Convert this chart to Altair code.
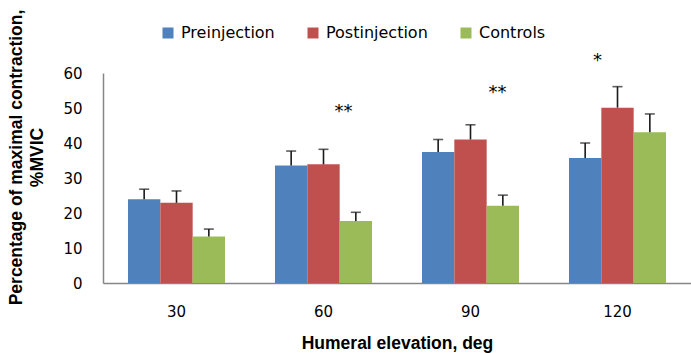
import altair as alt
import pandas as pd

angles = ["30", "60", "90", "120"]
series = ["Preinjection", "Postinjection", "Controls"]
colors = ["#4F81BD", "#C0504D", "#9BBB59"]

pre = [23.9, 33.6, 37.4, 35.7]
pre_err = [26.8, 37.7, 41.0, 40.0]
post = [22.9, 33.9, 41.0, 50.1]
post_err = [26.3, 38.2, 45.2, 56.1]
ctrl = [13.3, 17.7, 22.1, 43.1]
ctrl_err = [15.4, 20.2, 25.1, 48.3]

ann_angles = ["60", "90", "120"]
ann_y = [48.9, 54.2, 63.4]
ann_text = ["**", "**", "*"]
ann_dx = [20, 27, -20]

rows = []
for s, vals, errs in zip(series, [pre, post, ctrl], [pre_err, post_err, ctrl_err]):
    for a, v, e in zip(angles, vals, errs):
        rows.append({"angle": a, "series": s, "value": v, "err": e})
df = pd.DataFrame(rows)

x_axis = alt.Axis(
    title="Humeral elevation, deg",
    labelAngle=0,
    ticks=False,
    labelPadding=21,
    labelFont="DejaVu Sans",
    labelFontSize=15,
    labelColor="#000000",
    domainColor="#868686",
    domainWidth=1.5,
    titleFont="Liberation Sans",
    titleFontSize=17.5,
    titleFontWeight="bold",
    titleColor="#000000",
    titleY=65,
    titleBaseline="alphabetic",
)
x_scale = alt.Scale(domain=angles, paddingInner=0.34, paddingOuter=0.17)
x = alt.X("angle:N", sort=angles, scale=x_scale, axis=x_axis)
xo = alt.XOffset("series:N", sort=series, scale=alt.Scale(domain=series, paddingInner=0, paddingOuter=0))

y_scale = alt.Scale(domain=[0, 60], nice=False)
y_axis = alt.Axis(
    title=["Percentage of maximal contraction,", "%MVIC"],
    values=[0, 10, 20, 30, 40, 50, 60],
    tickCount=7,
    labelOverlap=False,
    grid=False,
    ticks=False,
    labelPadding=21,
    labelFont="DejaVu Sans",
    labelFontSize=15,
    labelColor="#000000",
    domainColor="#868686",
    domainWidth=1.5,
    titleFont="Liberation Sans",
    titleFontSize=17.5,
    titleFontWeight="bold",
    titleColor="#000000",
    titleAngle=-90,
    titleX=-96,
    titleY=84,
    titleAlign="center",
    titleBaseline="top",
    titleLineHeight=21,
)
y = alt.Y("value:Q", scale=y_scale, axis=y_axis)

color = alt.Color(
    "series:N",
    sort=series,
    scale=alt.Scale(domain=series, range=colors),
    legend=alt.Legend(
        title=None,
        orient="none",
        direction="horizontal",
        legendX=57,
        legendY=-48,
        symbolType="square",
        symbolSize=121,
        symbolStrokeWidth=0,
        labelFont="DejaVu Sans",
        labelFontSize=16,
        labelColor="#000000",
        labelOffset=5,
        columnPadding=30,
        padding=0,
    ),
)

base = alt.Chart(df)
bars = base.mark_bar().encode(x=x, xOffset=xo, y=y, color=color)
rules = base.mark_rule(color="#1a1a1a", strokeWidth=1.6).encode(
    x=x, xOffset=xo, y=y, y2="err:Q"
)
caps = base.mark_tick(color="#1a1a1a", thickness=1.6, size=10, orient="horizontal").encode(
    x=x, xOffset=xo, y=alt.Y("err:Q", scale=y_scale, axis=y_axis)
)

layers = [bars, rules, caps]
for a, yy, t, dx in zip(ann_angles, ann_y, ann_text, ann_dx):
    adf = pd.DataFrame({"angle": [a], "y": [yy], "t": [t]})
    layers.append(
        alt.Chart(adf)
        .mark_text(font="DejaVu Sans", fontSize=18, color="#000000", dx=dx, baseline="middle", clip=False)
        .encode(
            x=alt.X("angle:N", sort=angles, scale=x_scale, axis=x_axis),
            y=alt.Y("y:Q", scale=y_scale, axis=y_axis),
            text="t:N",
        )
    )

chart = (
    alt.layer(*layers)
    .properties(
        width=588,
        height=210,
        autosize=alt.AutoSizeParams(type="none"),
        padding={"left": 103, "top": 73, "right": 0, "bottom": 70},
        background="#ffffff",
    )
    .configure_view(stroke=None)
    .configure_axisY(labelOverlap=False)
)

chart.save("out.html", embed_options={"renderer": "svg", "actions": False})
